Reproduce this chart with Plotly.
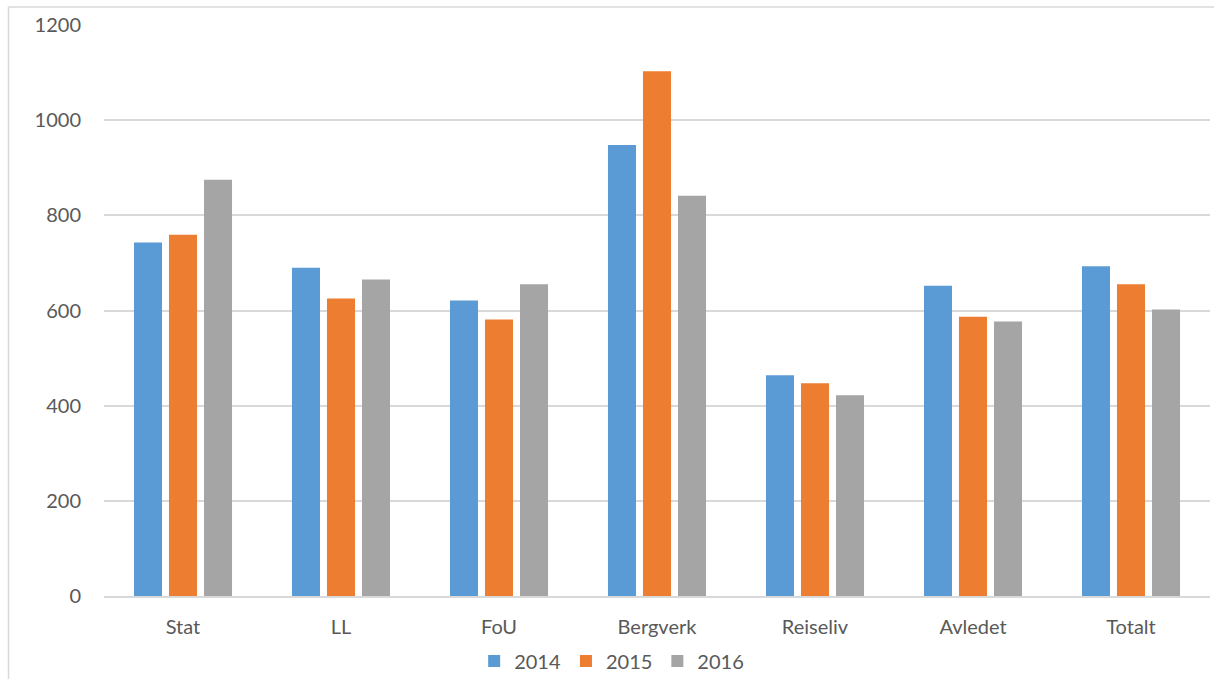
import plotly.graph_objects as go

categories = ["Stat", "LL", "FoU", "Bergverk", "Reiseliv", "Avledet", "Totalt"]
years = ["2014", "2015", "2016"]
values_2014 = [743, 690, 621, 948, 464, 652, 693]
values_2015 = [759, 625, 581, 1103, 447, 587, 655]
values_2016 = [875, 665, 655, 841, 422, 577, 602]
colors = ["#5B9BD5", "#ED7D31", "#A5A5A5"]
y_ticks = [0, 200, 400, 600, 800, 1000, 1200]

fig = go.Figure()
for name, vals, col in zip(years, [values_2014, values_2015, values_2016], colors):
    fig.add_trace(go.Bar(name=name, x=categories, y=vals, marker=dict(color=col, line=dict(width=0))))

font_family = "Lato, 'Open Sans', sans-serif"
W, H, L, R, T, B = 1214, 679, 104, 4, 25, 83
pw, ph = W - L - R, H - T - B
fig.update_layout(
    width=W, height=H,
    barmode="group", bargap=0.335, bargroupgap=0.2,
    paper_bgcolor="white", plot_bgcolor="white",
    margin=dict(l=L, r=R, t=T, b=B, autoexpand=False),
    font=dict(family=font_family, size=20, color="#595959"),
    legend=dict(orientation="h", x=0.459, xanchor="center", y=-0.114, yanchor="middle",
                font=dict(size=20, color="#595959"), traceorder="normal",
                itemwidth=30, tracegroupgap=0),
    showlegend=True,
)
fig.update_yaxes(range=[0, 1200], tickvals=y_ticks, ticktext=[str(v) for v in y_ticks],
                 showgrid=True, gridcolor="#D9D9D9", gridwidth=1.5,
                 zeroline=False, showline=False, ticks="", ticklabelstandoff=22,
                 tickfont=dict(size=20, color="#595959"))
fig.update_xaxes(showline=True, linecolor="#D9D9D9", linewidth=1.5, ticks="",
                 ticklabelstandoff=12, tickfont=dict(size=20, color="#595959"))

# outer chart border (cropped at right/bottom like reference)
def px_x(p):
    return (p - L) / pw

def px_y(p):
    return (H - B - p) / ph

fig.add_shape(type="rect", xref="paper", yref="paper",
              x0=px_x(8.5), x1=px_x(1240), y0=px_y(720), y1=px_y(7),
              line=dict(color="#D9D9D9", width=1.5), fillcolor="rgba(0,0,0,0)", layer="below")

fig.write_html("out.html")
